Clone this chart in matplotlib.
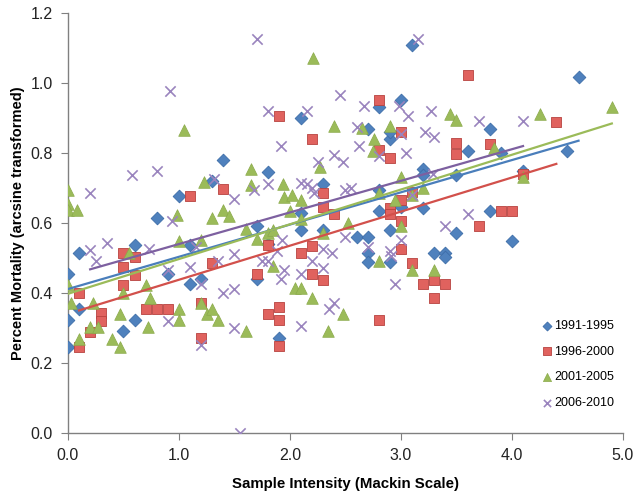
import matplotlib
matplotlib.use("Agg")
import matplotlib.pyplot as plt
import numpy as np

# 1991-1995
blue_x = [0, 0, 0, 0.1, 0.1, 0.6, 0.6, 0.5, 0.8, 0.9, 1.0, 1.1, 1.1, 1.2, 1.3, 1.4,
          1.7, 1.7, 1.8, 1.8, 1.9, 2.1, 2.1, 2.1, 2.3, 2.3, 2.6, 2.7, 2.7, 2.7, 2.7,
          2.8, 2.8, 2.8, 2.9, 2.9, 2.9, 2.9, 3.0, 3.0, 3.1, 3.2, 3.2, 3.2, 3.3, 3.4,
          3.4, 3.5, 3.5, 3.6, 3.8, 3.8, 3.9, 4.0, 4.1, 4.5, 4.6]
blue_y = [0.454, 0.323, 0.247, 0.514, 0.354, 0.537, 0.323, 0.29, 0.613, 0.454, 0.677,
          0.537, 0.426, 0.439, 0.72, 0.779, 0.591, 0.439, 0.746, 0.54, 0.272, 0.90,
          0.629, 0.58, 0.71, 0.581, 0.559, 0.868, 0.559, 0.514, 0.489, 0.931, 0.695,
          0.635, 0.841, 0.581, 0.489, 0.86, 0.95, 0.647, 1.108, 0.755, 0.736, 0.644,
          0.514, 0.514, 0.502, 0.736, 0.571, 0.806, 0.868, 0.635, 0.80, 0.549, 0.749,
          0.806, 1.016]

# 1996-2000
red_x = [0.1, 0.1, 0.2, 0.3, 0.3, 0.5, 0.5, 0.5, 0.6, 0.6, 0.7, 0.8, 0.9, 1.1, 1.2,
         1.2, 1.3, 1.4, 1.7, 1.8, 1.8, 1.9, 1.9, 1.9, 1.9, 2.1, 2.2, 2.2, 2.2, 2.3,
         2.3, 2.3, 2.4, 2.8, 2.8, 2.8, 2.9, 2.9, 2.9, 3.0, 3.0, 3.0, 3.0, 3.1, 3.1,
         3.2, 3.3, 3.3, 3.4, 3.5, 3.5, 3.6, 3.7, 3.8, 3.9, 4.0, 4.1, 4.4]
red_y = [0.40, 0.245, 0.288, 0.343, 0.321, 0.514, 0.473, 0.424, 0.502, 0.452, 0.354,
         0.354, 0.354, 0.676, 0.371, 0.271, 0.487, 0.696, 0.454, 0.537, 0.34, 0.907,
         0.359, 0.323, 0.248, 0.514, 0.839, 0.535, 0.454, 0.685, 0.647, 0.437, 0.625,
         0.95, 0.808, 0.323, 0.787, 0.644, 0.625, 0.86, 0.665, 0.606, 0.525, 0.689,
         0.487, 0.426, 0.437, 0.385, 0.426, 0.829, 0.796, 1.024, 0.591, 0.827, 0.633,
         0.633, 0.739, 0.889]

# 2001-2005
green_x = [0, 0, 0, 0, 0.03, 0.08, 0.1, 0.2, 0.23, 0.27, 0.4, 0.47, 0.47, 0.5, 0.55,
           0.7, 0.72, 0.74, 0.98, 1.0, 1.0, 1.0, 1.05, 1.2, 1.2, 1.23, 1.25, 1.3, 1.3,
           1.35, 1.4, 1.45, 1.6, 1.6, 1.65, 1.65, 1.7, 1.8, 1.85, 1.85, 1.94, 1.95,
           2.0, 2.02, 2.05, 2.1, 2.1, 2.1, 2.21, 2.2, 2.27, 2.3, 2.34, 2.4, 2.48, 2.52,
           2.65, 2.76, 2.75, 2.8, 2.8, 2.9, 2.95, 3.0, 3.0, 3.1, 3.1, 3.2, 3.3, 3.44,
           3.5, 3.84, 4.1, 4.25, 4.9]
green_y = [0.695, 0.654, 0.637, 0.424, 0.37, 0.637, 0.269, 0.304, 0.371, 0.304, 0.269,
           0.34, 0.245, 0.40, 0.513, 0.424, 0.304, 0.385, 0.623, 0.549, 0.354, 0.323,
           0.867, 0.552, 0.371, 0.718, 0.34, 0.613, 0.354, 0.323, 0.637, 0.62, 0.583,
           0.29, 0.755, 0.708, 0.555, 0.57, 0.58, 0.476, 0.71, 0.675, 0.633, 0.68,
           0.413, 0.413, 0.665, 0.61, 1.07, 0.385, 0.761, 0.57, 0.29, 0.877, 0.34, 0.60,
           0.872, 0.84, 0.805, 0.685, 0.49, 0.877, 0.665, 0.73, 0.59, 0.465, 0.68, 0.70,
           0.465, 0.91, 0.895, 0.815, 0.73, 0.91, 0.93]

# 2006-2010
purple_x = [0.2, 0.2, 0.25, 0.35, 0.58, 0.73, 0.8, 0.92, 0.94, 0.9, 0.9, 1.1, 1.15, 1.2,
            1.2, 1.32, 1.35, 1.4, 1.5, 1.5, 1.5, 1.5, 1.55, 1.7, 1.68, 1.75, 1.8, 1.8,
            1.8, 1.92, 1.93, 1.88, 1.92, 1.95, 2.1, 2.1, 2.1, 2.15, 2.15, 2.2, 2.22,
            2.2, 2.25, 2.3, 2.3, 2.35, 2.4, 2.38, 2.4, 2.45, 2.48, 2.5, 2.55, 2.5, 2.6,
            2.62, 2.67, 2.7, 2.8, 2.9, 2.91, 2.95, 2.98, 3.0, 3.0, 3.05, 3.06, 3.1,
            3.15, 3.22, 3.27, 3.3, 3.29, 3.4, 3.6, 3.7, 4.1]
purple_y = [0.523, 0.687, 0.49, 0.542, 0.737, 0.525, 0.749, 0.977, 0.605, 0.465, 0.32,
            0.475, 0.53, 0.425, 0.25, 0.725, 0.49, 0.40, 0.668, 0.51, 0.41, 0.30, 0.0,
            1.125, 0.695, 0.49, 0.92, 0.71, 0.49, 0.82, 0.55, 0.52, 0.44, 0.465, 0.715,
            0.455, 0.305, 0.92, 0.71, 0.70, 0.685, 0.49, 0.775, 0.525, 0.47, 0.355,
            0.37, 0.515, 0.795, 0.965, 0.775, 0.695, 0.70, 0.56, 0.875, 0.82, 0.935,
            0.53, 0.79, 0.52, 0.505, 0.425, 0.935, 0.855, 0.55, 0.80, 0.905, 0.68,
            1.125, 0.86, 0.92, 0.845, 0.74, 0.59, 0.625, 0.89, 0.89]

labels = ["1991-1995", "1996-2000", "2001-2005", "2006-2010"]

plt.rcParams['font.family'] = ['Liberation Sans', 'DejaVu Sans']

fig = plt.figure(figsize=(6.35, 4.93), dpi=100)
ax = fig.add_axes([0.107, 0.1217, 0.874, 0.852])

series = [
    (blue_x, blue_y, dict(marker='D', s=42, facecolor='#4F81BD', edgecolor='#3D6DA8', linewidths=0.6), '#4A7EBB'),
    (red_x, red_y, dict(marker='s', s=62, facecolor='#E0625E', edgecolor='#B8433F', linewidths=0.6), '#D2504B'),
    (green_x, green_y, dict(marker='^', s=70, facecolor='#9BBB59', edgecolor='#8AAA4A', linewidths=0.5), '#9BBB59'),
    (purple_x, purple_y, dict(marker='x', s=55, color='#9A84BE', linewidths=1.2), '#7D60A0'),
]

for (xs, ys, style, lc), lab in zip(series, labels):
    ax.scatter(xs, ys, label=lab, zorder=3, **style)

# linear trendlines over each series' x-range
for (xs, ys, style, lc) in series:
    xs = np.array(xs)
    ys = np.array(ys)
    m, b = np.polyfit(xs, ys, 1)
    xx = np.array([xs.min(), xs.max()])
    ax.plot(xx, m * xx + b, color=lc, lw=1.6, zorder=4)

ax.set_xlim(0, 5)
ax.set_ylim(0, 1.2)
ax.set_xticks(np.arange(0, 5.01, 1.0))
ax.set_yticks(np.arange(0, 1.21, 0.2))
ax.xaxis.set_major_formatter(matplotlib.ticker.FormatStrFormatter('%.1f'))
ax.yaxis.set_major_formatter(matplotlib.ticker.FormatStrFormatter('%.1f'))

for side in ['top', 'right']:
    ax.spines[side].set_visible(False)
for side in ['left', 'bottom']:
    ax.spines[side].set_color('#808080')
    ax.spines[side].set_linewidth(1.0)
ax.tick_params(direction='out', length=5, pad=6, color='#808080', labelsize=11.5, labelcolor='#222222')

ax.set_xlabel('Sample Intensity (Mackin Scale)', fontsize=10.8, fontweight='bold', labelpad=10)
ax.set_ylabel('Percent Mortality (arcsine transformed)', fontsize=10.5, fontweight='bold', labelpad=4)

ax.legend(loc='lower right', bbox_to_anchor=(1.005, 0.03), frameon=False, fontsize=9,
          handletextpad=0.1, labelspacing=1.1, handlelength=1.0, markerscale=0.7)

fig.savefig('out.png', dpi=100)
